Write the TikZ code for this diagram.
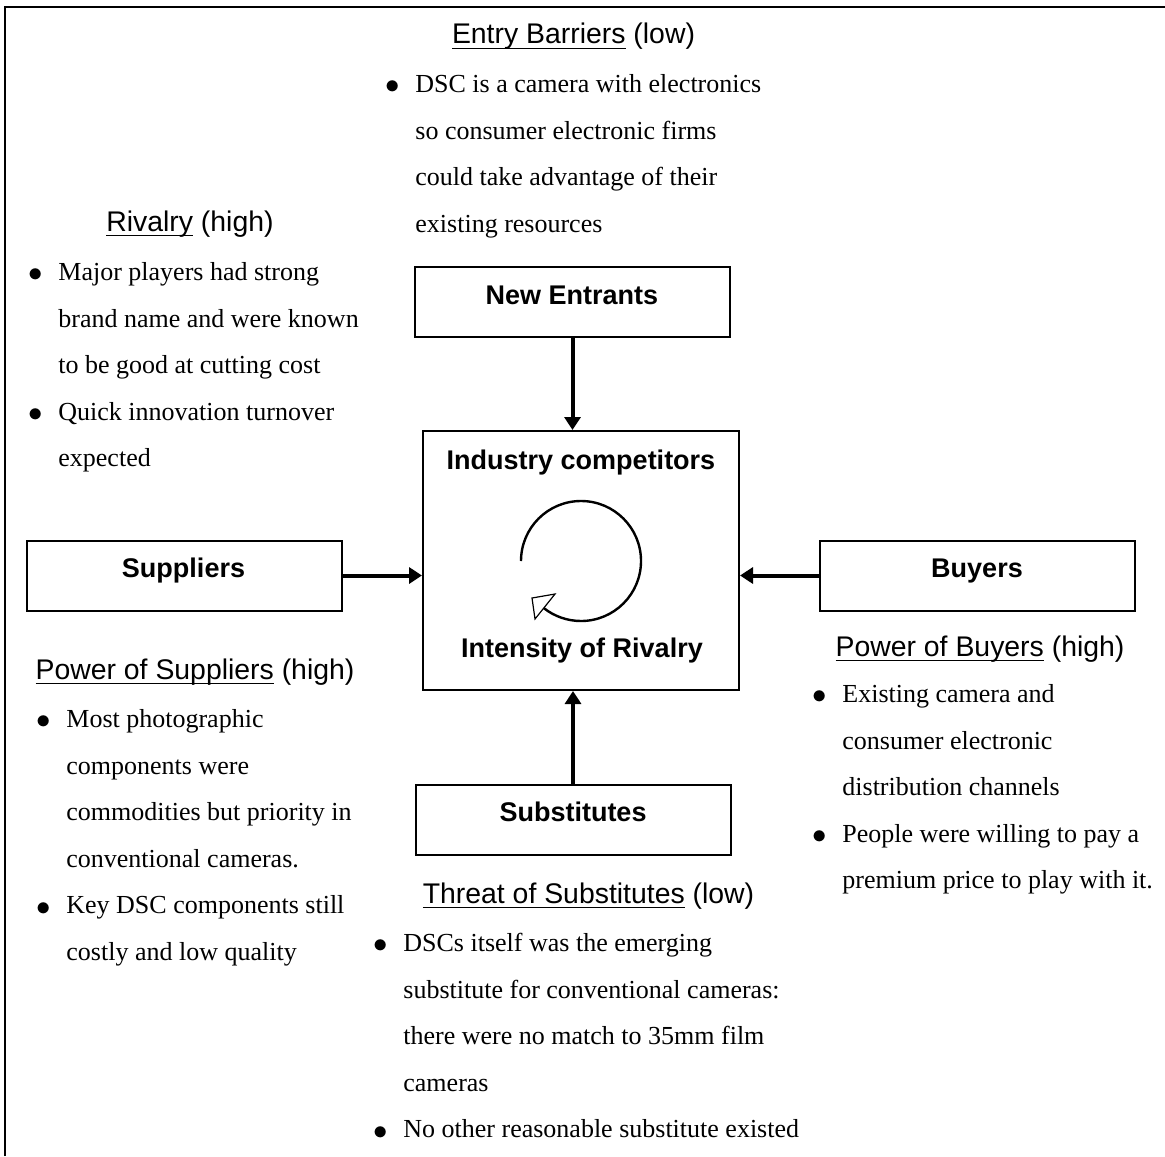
\documentclass[tikz,border=0pt]{standalone}
\usepackage{fontspec}
\setmainfont{Liberation Serif}
\setsansfont{Liberation Sans}
\usetikzlibrary{arrows.meta}

% underlined word for the force headings
\newcommand\ulword[1]{\setbox0\hbox{#1}\rlap{\rule[-2.6pt]{\wd0}{0.75pt}}\box0\relax}
% hanging bullet in front of a list line
\newcommand\bul{\leavevmode\llap{\raisebox{-0.7pt}{\scalebox{1.2}{$\bullet$}}\hspace{8pt}}}

\tikzset{
  frame/.style={line width=0.75pt},
  block/.style={draw, line width=1pt, minimum width=157.5pt, minimum height=35pt, inner sep=0pt},
  boxlabel/.style={font=\sffamily\bfseries\fontsize{13.5}{16}\selectfont, anchor=base, inner sep=0pt},
  head/.style={font=\sffamily\fontsize{14.2}{17}\selectfont, anchor=base, inner sep=0pt},
  list/.style={font=\rmfamily\fontsize{13}{23.3}\selectfont, anchor=north west, inner sep=0pt,
               align=left, yshift=16.31pt},
  push/.style={line width=2pt, -{Triangle[length=6.5pt, width=8pt]}},
}

\begin{document}
\begin{tikzpicture}[x=0.5pt, y=-0.5pt]
\useasboundingbox (0,0) rectangle (1165,1156);

% outer frame (left and top edges)
\draw[frame] (5,1156) -- (5,7) -- (1165,7);

% the five forces
\node[block] (ne)  at (572.5,301.5) {};
\node[block] (sup) at (184,575.5) {};
\node[block] (buy) at (977.5,575.5) {};
\node[block] (sub) at (573,819.5) {};
\node[draw, line width=1pt, minimum width=158pt, minimum height=129.5pt, inner sep=0pt] (ic) at (581,560.5) {};

\node[boxlabel] (neL)  at (572,304.5) {New Entrants};
\node[boxlabel] (supL) at (183.5,577.5) {Suppliers};
\node[boxlabel] (buyL) at (977,577.5) {Buyers};
\node[boxlabel] (subL) at (573,821) {Substitutes};
\node[boxlabel] (icT)  at (581,469) {Industry competitors};
\node[boxlabel] (icB)  at (582,657) {Intensity of Rivalry};

% pressure arrows into the industry box
\draw[push] (ne.south) -- (ne.south |- ic.north);
\draw[push] (sub.north) -- (sub.north |- ic.south);
\draw[push] (sup.east) -- (sup.east -| ic.west);
\draw[push] (buy.west) -- (buy.west -| ic.east);

% rivalry cycle symbol
\coordinate (rc) at (581,561);
\draw[line width=1.2pt] ([shift={(180:30pt)}]rc) arc[start angle=180, end angle=-128, radius=30pt];
\draw[line width=0.6pt, fill=white] (532,598) -- (555,594) -- (535,619) -- cycle;

% headings
\node[head] (entryH) at (573.5,44)  {\ulword{Entry Barriers} (low)};
\node[head] (rivH)   at (190,231)   {\ulword{Rivalry} (high)};
\node[head] (supH)   at (195,679)   {\ulword{Power of Suppliers} (high)};
\node[head] (buyH)   at (980,656)   {\ulword{Power of Buyers} (high)};
\node[head] (subH)   at (588.5,903) {\ulword{Threat of Substitutes} (low)};

% notes
\node[list] (entryT) at (415,92) {\strut\bul DSC is a camera with electronics\\
  so consumer electronic firms\\ could take advantage of their\\ existing resources};
\node[list] (rivT) at (58,280) {\strut\bul Major players had strong\\
  brand name and were known\\ to be good at cutting cost\\
  \bul Quick innovation turnover\\ expected};
\node[list] (supT) at (66,727) {\strut\bul Most photographic\\ components were\\
  commodities but priority in\\ conventional cameras.\\
  \bul Key DSC components still\\ costly and low quality};
\node[list] (buyT) at (842,702) {\strut\bul Existing camera and\\ consumer electronic\\
  distribution channels\\ \bul People were willing to pay a\\ premium price to play with it.};
\node[list] (subT) at (403,951) {\strut\bul DSCs itself was the emerging\\
  substitute for conventional cameras:\\ there were no match to 35mm film\\ cameras\\
  \bul No other reasonable substitute existed};
\end{tikzpicture}
\end{document}
